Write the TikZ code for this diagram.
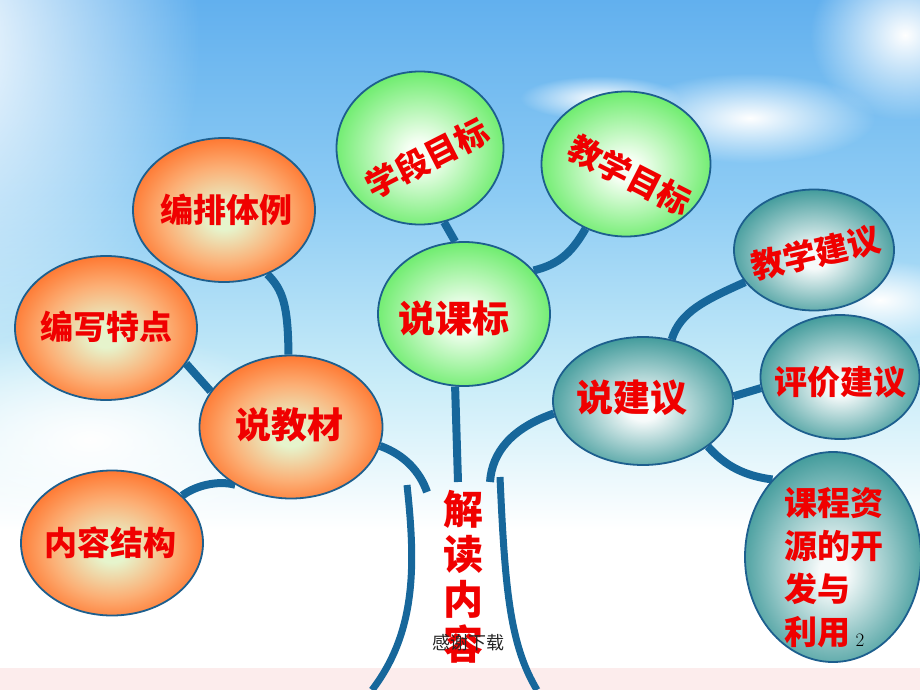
\documentclass[tikz,border=0pt]{standalone}
\usepackage{fontspec}
\newfontfamily\cjk{Noto Sans CJK SC}
\usetikzlibrary{shapes.geometric,fadings}
\definecolor{linec}{HTML}{17679B}
\definecolor{bordc}{HTML}{1D5F8E}
\definecolor{txtred}{HTML}{F00000}
\definecolor{orgout}{HTML}{FF6A20}
\definecolor{orgmid}{HTML}{FCAE74}
\definecolor{orgin}{HTML}{E6F4CC}
\definecolor{grnout}{HTML}{5CEA5C}
\definecolor{grnin}{HTML}{F6FFF4}
\definecolor{tealout}{HTML}{238B8B}
\definecolor{tealin}{HTML}{F6FAFA}
\definecolor{sky1}{HTML}{62B0EE}
\definecolor{sky2}{HTML}{8ECCF4}
\definecolor{sky3}{HTML}{C8ECF8}
\definecolor{pinkstrip}{HTML}{FCECEC}
\pgfdeclareradialshading{orgshade}{\pgfpoint{0bp}{-3bp}}{color(0bp)=(orgin); color(4bp)=(orgin); color(17bp)=(orgmid); color(29bp)=(orgout); color(50bp)=(orgout)}
\pgfdeclareradialshading{grnshade}{\pgfpoint{0bp}{-2bp}}{color(0bp)=(grnin); color(4bp)=(grnin); color(29bp)=(grnout); color(50bp)=(grnout)}
\pgfdeclareradialshading{tealshade}{\pgfpoint{0bp}{-4bp}}{color(0bp)=(tealin); color(4bp)=(tealin); color(31bp)=(tealout); color(50bp)=(tealout)}
\tikzfading[name=glowfade, inner color=transparent!0, outer color=transparent!100]
\pgfdeclarelayer{bg}
\pgfdeclarelayer{mid}
\pgfsetlayers{bg,mid,main}
\begin{document}
\begin{tikzpicture}[x=1pt,y=-1pt,
  ell/.style={ellipse, draw=bordc, line width=1.8pt, inner sep=0pt},
  orng/.style={ell, shading=orgshade},
  grn/.style={ell, shading=grnshade},
  teal/.style={ell, shading=tealshade},
  lbl/.style={text=txtred, inner sep=0pt, font=\cjk\bfseries\fontsize{#1}{#1}\selectfont},
  conn/.style={draw=linec, line width=8pt},
  trunk/.style={draw=linec, line width=7pt}]
\useasboundingbox (0,0) rectangle (920,690);

% ---------- background ----------
\begin{pgfonlayer}{bg}
\shade[top color=sky1, bottom color=sky2] (0,0) rectangle (920,200);
\shade[top color=sky2, bottom color=sky3] (0,199.5) rectangle (920,380);
\shade[top color=sky3, bottom color=white] (0,379.5) rectangle (920,530);
\fill[white] (0,529.5) rectangle (920,668);
\fill[pinkstrip] (0,668) rectangle (920,690);
\fill[white, path fading=glowfade] (-60,40) ellipse (260 and 330);
\fill[white, path fading=glowfade] (90,440) ellipse (230 and 110);
\fill[white, path fading=glowfade] (750,118) ellipse (125 and 45);
\fill[white, path fading=glowfade] (905,35) ellipse (95 and 85);
\fill[white, path fading=glowfade] (600,98) ellipse (80 and 22);
\fill[white, path fading=glowfade] (880,300) ellipse (90 and 40);
\end{pgfonlayer}

% ---------- ellipses ----------
\node[orng, minimum width=182pt, minimum height=144pt] (bp)  at (224,210) {};
\node[orng, minimum width=182pt, minimum height=144pt] (bx)  at (106,328) {};
\node[orng, minimum width=183pt, minimum height=143pt] (sjc) at (291,427) {};
\node[orng, minimum width=182pt, minimum height=145pt] (nr)  at (112,543) {};
\node[grn,  minimum width=167pt, minimum height=153pt] (xd)  at (420,148) {};
\node[grn,  minimum width=169pt, minimum height=145pt] (jm)  at (626,164) {};
\node[grn,  minimum width=172pt, minimum height=144pt] (skb) at (464,314) {};
\node[teal, minimum width=180pt, minimum height=128pt] (sjy) at (643,401) {};
\node[teal, minimum width=160pt, minimum height=121pt] (jj)  at (814,250) {};
\node[teal, minimum width=159pt, minimum height=124pt] (pj)  at (840,377) {};
\node[teal, minimum width=176pt, minimum height=210pt] (kc)  at (833,557) {};

% ---------- connectors ----------
\coordinate (lbranch) at (427,492);
\coordinate (ltop) at (407,485);
\coordinate (lbot) at (372,690);
\coordinate (rtop) at (500,477);
\coordinate (rbot) at (537,690);
\coordinate (stemend) at (458,482);
\coordinate (rbranch) at (490,482);
\begin{pgfonlayer}{mid}
\draw[conn] (bp.-56) .. controls (283,290) and (288,305) .. (sjc.92);
\draw[conn] (bx.-24) -- (sjc.156);
\draw[conn] (nr.34) .. controls (195,486) and (217,480) .. (sjc.-134);
\draw[conn] (sjc.-12) .. controls (405,455) and (420,472) .. (lbranch);
\draw[trunk] (ltop) .. controls (415,560) and (418,630) .. (lbot);
\draw[trunk] (rtop) .. controls (505,590) and (510,645) .. (rbot);
\draw[conn] (skb.-97) -- (stemend);
\draw[conn] (sjy.-172) .. controls (512,428) and (492,452) .. (rbranch);
\draw[conn] (xd.-72) -- (skb.97);
\draw[conn] (jm.-122) .. controls (572,252) and (560,264) .. (skb.32);
\draw[conn] (sjy.65) .. controls (680,312) and (705,300) .. (jj.-155);
\draw[conn] (sjy.3) -- (pj.-172);
\draw[conn] (sjy.-35) .. controls (725,466) and (745,476) .. (kc.128);
\end{pgfonlayer}

% ---------- labels ----------
\node[lbl=33] (tbp)  at (226,210) {编排体例};
\node[lbl=33] (tbx)  at (106,327) {编写特点};
\node[lbl=36] (tsjc) at (289,425) {说教材};
\node[lbl=33] (tnr)  at (110,543) {内容结构};
\node[lbl=33, rotate=27]  (txd) at (427,158) {学段目标};
\node[lbl=33, rotate=-27] (tjm) at (630,175) {教学目标};
\node[lbl=37] (tskb) at (454,318) {说课标};
\node[lbl=37] (tsjy) at (632,398) {说建议};
\node[lbl=33, rotate=13] (tjj) at (816,253) {教学建议};
\node[lbl=33] (tpj)  at (840,382) {评价建议};
\node[text=txtred, inner sep=0pt, align=left,
      font=\cjk\bfseries\fontsize{33}{43}\selectfont] (tkc) at (834,568)
      {课程资\\源的开\\发与\\利用};
\node[text=txtred, inner sep=0pt, align=center,
      font=\cjk\bfseries\fontsize{40}{45}\selectfont] (tjd) at (463,577)
      {解\\读\\内\\容};
\node[text=black!85, inner sep=0pt, font=\cjk\fontsize{18}{18}\selectfont] (thanks) at (468,643) {感谢下载};
\node[text=black, inner sep=0pt, font=\fontsize{19}{19}\selectfont] (pgnum) at (860,640) {2};
\end{tikzpicture}
\end{document}
